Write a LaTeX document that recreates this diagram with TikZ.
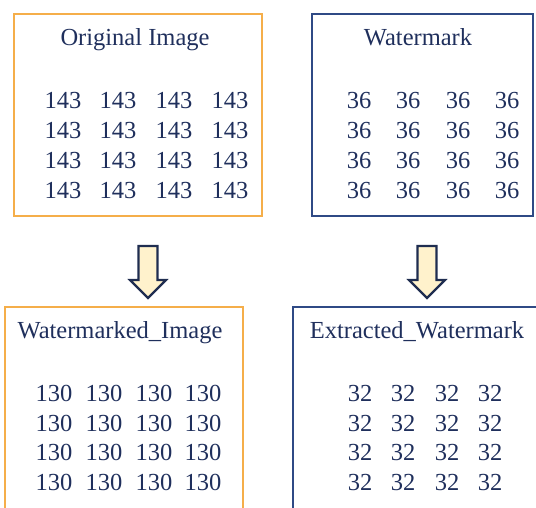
\documentclass[tikz,border=0pt]{standalone}
\usepackage{fontspec}
\setmainfont{Liberation Serif}
\definecolor{boxorange}{HTML}{F5AE4A}
\definecolor{boxnavy}{HTML}{2F4A85}
\definecolor{txtnavy}{HTML}{1F2F5C}
\definecolor{arrowfill}{HTML}{FFF2CC}
\definecolor{arrowline}{HTML}{1F2D50}
\begin{document}
\begin{tikzpicture}[x=1pt,y=-1pt,
  obox/.style={draw=boxorange,line width=1.5pt},
  nbox/.style={draw=boxnavy,line width=1.8pt},
  txt/.style={text=txtnavy,font=\fontsize{24.5}{28}\selectfont,inner sep=0pt,anchor=base},
  blockarrow/.style={fill=arrowfill,draw=arrowline,line width=2.2pt,line join=miter}]
\useasboundingbox (0,0) rectangle (536,507);
% boxes
\draw[obox] (14,216) -- (14,14) coordinate (b1) -- (262,14) -- (262,216) -- cycle;
\draw[nbox] (312,216) -- (312,14) coordinate (b2) -- (533,14) -- (533,216) -- cycle;
\draw[obox] (5,510) -- (5,307) coordinate (b3) -- (243,307) -- (243,510);
\draw[nbox] (293,510) -- (293,307) coordinate (b4) -- (540,307);
% titles
\node[txt] (t1) at (135,45) {Original Image};
\node[txt] (t2) at (418,45) {Watermark};
\node[txt] (t3) at (120,338) {Watermarked\_Image};
\node[txt] (t4) at (417,338) {Extracted\_Watermark};
% numbers
\foreach \r/\y in {1/108,2/138,3/168,4/198}{
  \foreach \c/\x in {1/63,2/118,3/174,4/230}{\node[txt] (o\r\c) at (\x,\y) {143};}
  \foreach \c/\x in {1/359,2/408,3/458,4/507}{\node[txt] (w\r\c) at (\x,\y) {36};}
}
\foreach \r/\y in {1/401,2/431,3/460,4/490}{
  \foreach \c/\x in {1/54,2/104,3/154,4/203}{\node[txt] (m\r\c) at (\x,\y) {130};}
  \foreach \c/\x in {1/360,2/403,3/447,4/490}{\node[txt] (e\r\c) at (\x,\y) {32};}
}
% block arrows
\foreach \n/\cx in {a1/148,a2/427}{
  \draw[blockarrow] (\cx-9.5,246) coordinate (\n) -- (\cx+9.5,246) -- (\cx+9.5,280) -- (\cx+18,280)
    -- (\cx,298) -- (\cx-18,280) -- (\cx-9.5,280) -- cycle;
}
\end{tikzpicture}
\end{document}
